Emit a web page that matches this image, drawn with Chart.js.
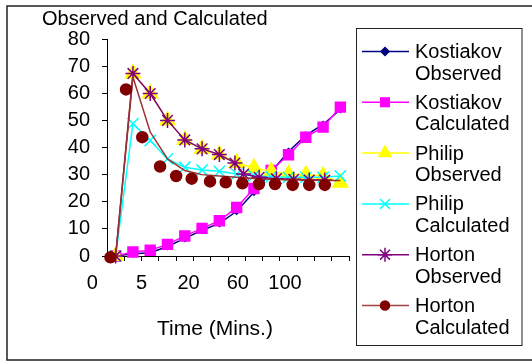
<!DOCTYPE html>
<html>
<head>
<meta charset="utf-8">
<script src="https://cdn.jsdelivr.net/npm/chart.js@4/dist/chart.umd.min.js"></script>
<style>
  html,body{margin:0;padding:0;background:#fff}
  canvas{display:block}
</style>
</head>
<body>
<canvas id="chart" width="532" height="361"></canvas>
<script>
const FONT = '"Liberation Sans", Arial, sans-serif';

// category centres on the x scale (14 time steps)
const catPos = [0.5, 1.5, 2.5, 3.5, 4.5, 5.5, 6.5, 7.5, 8.5, 9.5, 10.5, 11.5, 12.5, 13.5];
const xTickLabels = ['0', '5', '20', '60', '100'];
const xTickPos = [-0.85, 2.0, 4.72, 7.57, 10.3];
const yTicks = [0, 10, 20, 30, 40, 50, 60, 70, 80];

const kostObs  = [0, 0.8, 1.2, 3.5, 6.5, 9.5, 12, 16.5, 23.5, 31, 38.5, 44.5, 48.5, 54];
const kostCalc = [0, 1.5, 2.1, 4.3, 7.4, 10.2, 13, 17.9, 24.9, 31.5, 37.3, 43.8, 47.5, 54.9];
const philObs  = [0, 67.3, 59.9, 50, 42.8, 39.5, 37.4, 34.3, 32.5, 31.2, 30.2, 30, 29.6, 27];
const philCalc = [0, 48.8, 42.6, 35.8, 32.7, 31.7, 31.2, 30.2, 29.6, 29.2, 29, 29, 29, 29.5];
const hortObsX = [0.5, 1.5, 2.5, 3.5, 4.5, 5.5, 6.5, 7.4, 7.9, 8.8, 9.8, 10.8, 11.7, 12.6];
const hortObs  = [0, 67.3, 59.9, 50, 42.8, 39.5, 37.4, 34.3, 30.2, 29, 28.5, 28.3, 28, 28];
const hortCalcLine = [0, 66, 45.7, 35.8, 31.5, 30, 29.5, 29, 28.6, 28.3, 28, 28, 27.8, 27.8];
const hortDotX = [0.2, 1.1, 2.04, 3.07, 4.0, 4.9, 5.96, 6.87, 7.83, 8.79, 9.72, 10.74, 11.7, 12.6];
const hortDot  = [-0.5, 61.4, 43.8, 33, 29.5, 28.5, 27.5, 27.2, 26.8, 26.5, 26.5, 26.2, 26.2, 26.2];

const pts = (xs, ys) => ys.map((y, i) => ({x: xs[i], y}));

function series(label, xs, ys, color, style, radius, extra){
  return Object.assign({
    label, data: pts(xs, ys),
    borderColor: color, backgroundColor: color,
    pointBackgroundColor: color, pointBorderColor: color,
    pointStyle: style, pointRadius: radius, pointBorderWidth: 1.5,
    borderWidth: 1.5, tension: 0, clip: false, showLine: true
  }, extra || {});
}

const datasets = [
  series('Kostiakov Observed', catPos, kostObs, '#000080', 'rectRot', 3, {order: 7}),
  series('Kostiakov Calculated', catPos, kostCalc, '#ff00ff', 'rect', 7, {order: 6}),
  series('Philip Observed', catPos, philObs, '#ffff00', 'triangle', 8.5, {order: 5}),
  series('Philip Calculated', catPos, philCalc, '#00ffff', 'crossRot', 8, {order: 4}),
  series('Horton Observed', hortObsX, hortObs, '#800080', 'star', 7.5, {order: 3}),
  series('Horton Calculated', catPos, hortCalcLine, '#993333', 'circle', 0, {order: 2}),
  series('Horton Calculated pts', hortDotX, hortDot, '#800000', 'circle', 5.5, {order: 1, showLine: false})
];

const legendItems = [
  {lines: ['Kostiakov', 'Observed'], line: '#000080', fill: '#000080', style: 'rectRot', r: 4},
  {lines: ['Kostiakov', 'Calculated'], line: '#ff00ff', fill: '#ff00ff', style: 'rect', r: 6},
  {lines: ['Philip', 'Observed'], line: '#ffff00', fill: '#ffff00', style: 'triangle', r: 7},
  {lines: ['Philip', 'Calculated'], line: '#00ffff', fill: '#00ffff', style: 'crossRot', r: 7},
  {lines: ['Horton', 'Observed'], line: '#800080', fill: '#800080', style: 'star', r: 7},
  {lines: ['Horton', 'Calculated'], line: '#a04040', fill: '#800000', style: 'circle', r: 4.5}
];

const Decor = {
  id: 'decor',
  afterDraw(chart){
    const {ctx} = chart;
    const xs = chart.scales.x;
    ctx.save();
    // outer frame
    ctx.strokeStyle = '#222'; ctx.lineWidth = 1.5;
    ctx.strokeRect(7, 6, 560, 354);
    // title
    ctx.fillStyle = '#000';
    ctx.font = '20px ' + FONT;
    ctx.textAlign = 'left'; ctx.textBaseline = 'alphabetic';
    ctx.fillText('Observed and Calculated', 42, 25);
    // x tick labels
    ctx.textAlign = 'center'; ctx.textBaseline = 'middle';
    xTickLabels.forEach((t, i) => ctx.fillText(t, xs.getPixelForValue(xTickPos[i]), 283));
    // x axis title
    ctx.font = '21px ' + FONT;
    ctx.textBaseline = 'alphabetic';
    ctx.fillText('Time (Mins.)', 215, 335);
    // legend
    ctx.strokeStyle = '#222'; ctx.lineWidth = 1;
    ctx.strokeRect(356.5, 28.5, 165.5, 317);
    ctx.font = '20px ' + FONT;
    ctx.textAlign = 'left'; ctx.textBaseline = 'middle';
    legendItems.forEach((it, i) => {
      const y = 51.5 + i * 50.8;
      ctx.strokeStyle = it.line; ctx.lineWidth = 1.5;
      ctx.beginPath(); ctx.moveTo(362, y); ctx.lineTo(409, y); ctx.stroke();
      ctx.fillStyle = it.fill; ctx.strokeStyle = it.fill;
      Chart.helpers.drawPoint(ctx, {pointStyle: it.style, radius: it.r, rotation: 0, borderWidth: 1.5}, 385, y);
      ctx.fillStyle = '#000';
      ctx.fillText(it.lines[0], 415, y + 1);
      ctx.fillText(it.lines[1], 415, y + 22.5);
    });
    ctx.restore();
  }
};

new Chart(document.getElementById('chart'), {
  type: 'scatter',
  data: {datasets},
  options: {
    responsive: false, animation: false, devicePixelRatio: 1,
    layout: {padding: {left: 7, top: 39, right: 183, bottom: 0}},
    plugins: {legend: {display: false}, tooltip: {enabled: false}},
    scales: {
      x: {
        type: 'linear', min: 0, max: 14,
        afterFit(s){ s.height = 105; },
        afterBuildTicks(s){ s.ticks = catPos.map((p, i) => ({value: i})).concat([{value: 14}]); },
        ticks: {display: false},
        grid: {drawOnChartArea: false, drawTicks: true, tickLength: 5, color: '#000', lineWidth: 1},
        border: {display: true, color: '#000', width: 1}
      },
      y: {
        min: 0, max: 80,
        afterFit(s){ s.width = 100; },
        afterBuildTicks(s){ s.ticks = yTicks.map(v => ({value: v})); },
        ticks: {color: '#000', font: {family: FONT, size: 20}, padding: 12},
        grid: {drawOnChartArea: false, drawTicks: true, tickLength: 5, color: '#000', lineWidth: 1},
        border: {display: true, color: '#000', width: 1}
      }
    }
  },
  plugins: [Decor]
});
</script>
</body>
</html>
